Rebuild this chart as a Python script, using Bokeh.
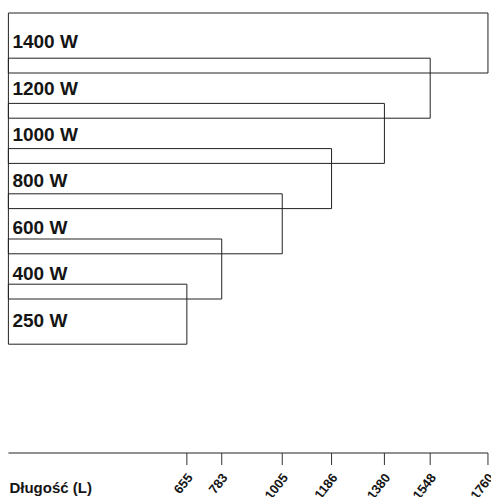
import math
from bokeh.plotting import figure
from bokeh.models import Range1d
from bokeh.core.properties import value
from bokeh.embed import file_html
from bokeh.resources import INLINE

# ---- data ----
power_labels = ["1400 W", "1200 W", "1000 W", "800 W", "600 W", "400 W", "250 W"]
lengths = [1760, 1548, 1380, 1186, 1005, 783, 655]
tick_values = [655, 783, 1005, 1186, 1380, 1548, 1760]
tick_labels = ["655", "783", "1005", "1186", "1380", "1548", "1760"]
axis_title = "Długość (L)"

# ---- layout (pixel-like vertical units, y grows downward) ----
W, H = 491, 497
row_top0 = 12.5
row_step = 45.2
row_height = 60
label_top0 = 41.2
label_step = 46.4
axis_y = 452.5
tick_len = 12
tick_label_drop = 22
title_y = 487

n = len(lengths)
tops = [row_top0 + i * row_step for i in range(n)]
bottoms = [t + row_height for t in tops]
label_y = [label_top0 + i * label_step for i in range(n)]
lefts = [0] * n

FONT = value("Liberation Sans")

p = figure(width=W, height=H, output_backend="svg", toolbar_location=None,
           x_range=Range1d(-29, 1773), y_range=Range1d(H, 0),
           x_axis_type=None, y_axis_type=None, min_border=0,
           outline_line_color=None, tools="")
p.background_fill_color = "white"
p.border_fill_color = "white"

# outlined rectangles, one per power rating
p.quad(left=lefts, right=lengths, top=tops, bottom=bottoms,
       fill_color=None, line_color="#222222", line_width=1)

p.text(x=lefts, y=label_y, text=power_labels, x_offset=4,
       text_font=FONT, text_font_style="bold", text_font_size="19px",
       text_align="left", text_baseline="alphabetic", text_color="#151515")

# length axis
p.segment(x0=[0], y0=[axis_y], x1=[max(tick_values)], y1=[axis_y],
          line_color="#222222", line_width=1)
p.segment(x0=tick_values, y0=[axis_y] * len(tick_values),
          x1=tick_values, y1=[axis_y + tick_len] * len(tick_values),
          line_color="#333333", line_width=1)
p.text(x=tick_values, y=[axis_y + tick_label_drop] * len(tick_values),
       text=tick_labels, angle=math.radians(52), x_offset=3,
       text_font=FONT, text_font_style="bold", text_font_size="13px",
       text_align="right", text_baseline="middle", text_color="#151515")

p.text(x=[0], y=[title_y], text=[axis_title], x_offset=1,
       text_font=FONT, text_font_style="bold", text_font_size="15px",
       text_align="left", text_baseline="alphabetic", text_color="#151515")

open("out.html", "w").write(file_html(p, INLINE))
